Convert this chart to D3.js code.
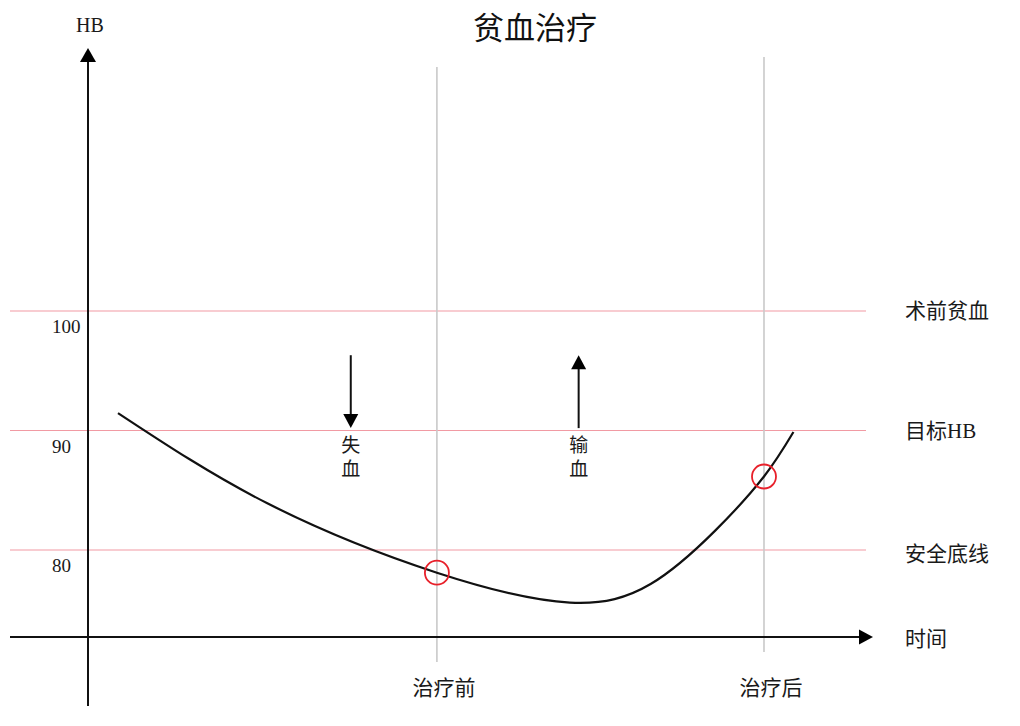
<!DOCTYPE html>
<html><head><meta charset="utf-8">
<script src="https://cdn.jsdelivr.net/npm/d3@7"></script>
<style>
html,body{margin:0;padding:0;background:#fff;}
svg{display:block;}
text{font-family:"Liberation Serif","Noto Sans CJK SC",serif;fill:#1a1a1a;}
</style></head>
<body>
<svg id="chart" width="1020" height="726"></svg>
<script>
// ---- data ----
const title = "贫血治疗";
const yAxisLabel = "HB";
const xAxisLabel = "时间";
const hbTicks = [80, 90, 100];
const refLevels = [100, 90, 80];
const refLabels = ["术前贫血", "目标HB", "安全底线"];
const curveTime = [2.75, 16.4, 32, 44.2, 51.6, 57.5, 62, 64.7];
const curveHB   = [91.46, 83.93, 78.1, 75.6, 77.15, 81.6, 86.15, 89.87];
const phaseLabels = ["治疗前", "治疗后"];
const phaseTime = [32, 62];
const phaseHB = [78.1, 86.15];
const arrowLabels = ["失血", "输血"];
const arrowTime = [24.1, 45.0];
const arrowDir = ["down", "up"];
const arrowHB = [96.3, 90.2];

// ---- layout ----
const svg = d3.select("#chart");
const x = d3.scaleLinear().domain([0, 62]).range([88, 764]);
const y = d3.scaleLinear().domain([80, 100]).range([550, 311]);
const axisY = 637, axisX = 88;

// title
svg.append("text").attr("x", 535).attr("y", 39).attr("text-anchor", "middle")
  .style("font-size", "31px").style("font-family", "'Noto Sans CJK SC'").style("fill", "#111").text(title);

// reference lines (pink)
svg.selectAll(".ref").data(refLevels).enter().append("line")
  .attr("x1", 10).attr("x2", 866)
  .attr("y1", d => y(d)).attr("y2", d => y(d))
  .attr("stroke", "#f19aa3").attr("stroke-width", 1.2);
svg.selectAll(".refLabel").data(refLevels).enter().append("text")
  .attr("x", 905).attr("y", (d, i) => y(d) + (i === 2 ? 11 : 7))
  .style("font-size", "21px").text((d, i) => refLabels[i]);

// tick labels
svg.selectAll(".tick").data(hbTicks).enter().append("text")
  .attr("x", 52).attr("y", d => y(d) + 22)
  .style("font-size", "19px").style("font-family", "'Liberation Serif'").text(d => d);

// phase vertical lines
const tops = [67, 57], bottoms = [662, 652];
svg.selectAll(".phase").data(phaseTime).enter().append("line")
  .attr("x1", d => x(d)).attr("x2", d => x(d))
  .attr("y1", (d, i) => tops[i]).attr("y2", (d, i) => bottoms[i])
  .attr("stroke", "#c9c9c9").attr("stroke-width", 1.6);
svg.selectAll(".phaseLabel").data(phaseTime).enter().append("text")
  .attr("x", d => x(d) + 7).attr("y", 695).attr("text-anchor", "middle")
  .style("font-size", "21px").text((d, i) => phaseLabels[i]);

// axes
svg.append("line").attr("x1", 10).attr("x2", 862).attr("y1", axisY).attr("y2", axisY)
  .attr("stroke", "#111").attr("stroke-width", 2);
svg.append("path").attr("d", `M873,${axisY} L859,${axisY - 7.5} L859,${axisY + 7.5} Z`).attr("fill", "#000");
svg.append("line").attr("x1", axisX).attr("x2", axisX).attr("y1", 706).attr("y2", 58)
  .attr("stroke", "#111").attr("stroke-width", 2);
svg.append("path").attr("d", `M${axisX},48 L${axisX - 8},62 L${axisX + 8},62 Z`).attr("fill", "#000");
svg.append("text").attr("x", 90).attr("y", 32).attr("text-anchor", "middle")
  .style("font-size", "20px").style("font-family", "'Liberation Serif'").text(yAxisLabel);
svg.append("text").attr("x", 905).attr("y", 646).style("font-size", "21px").text(xAxisLabel);

// curve
const pts = curveTime.map((t, i) => [t, curveHB[i]]);
const line = d3.line().x(d => x(d[0])).y(d => y(d[1])).curve(d3.curveNatural);
svg.append("path").datum(pts).attr("d", line)
  .attr("fill", "none").attr("stroke", "#111").attr("stroke-width", 2.2);

// markers
svg.selectAll(".marker").data(phaseTime).enter().append("circle")
  .attr("cx", d => x(d)).attr("cy", (d, i) => y(phaseHB[i])).attr("r", 12)
  .attr("fill", "none").attr("stroke", "#e8202a").attr("stroke-width", 1.8);

// annotation arrows
arrowTime.forEach((t, i) => {
  const ax = x(t), yTop = y(arrowHB[0]), yBot = y(arrowHB[1]);
  if (arrowDir[i] === "down") {
    svg.append("line").attr("x1", ax).attr("x2", ax).attr("y1", yTop).attr("y2", yBot - 12)
      .attr("stroke", "#111").attr("stroke-width", 2);
    svg.append("path").attr("d", `M${ax},${yBot} L${ax - 7.5},${yBot - 14} L${ax + 7.5},${yBot - 14} Z`).attr("fill", "#000");
  } else {
    svg.append("line").attr("x1", ax).attr("x2", ax).attr("y1", yBot).attr("y2", yTop + 12)
      .attr("stroke", "#111").attr("stroke-width", 2);
    svg.append("path").attr("d", `M${ax},${yTop} L${ax - 7.5},${yTop + 14} L${ax + 7.5},${yTop + 14} Z`).attr("fill", "#000");
  }
  const chars = arrowLabels[i].split("");
  chars.forEach((c, j) => {
    svg.append("text").attr("x", ax).attr("y", 452 + j * 24).attr("text-anchor", "middle")
      .style("font-size", "19px").text(c);
  });
});
</script>
</body></html>
